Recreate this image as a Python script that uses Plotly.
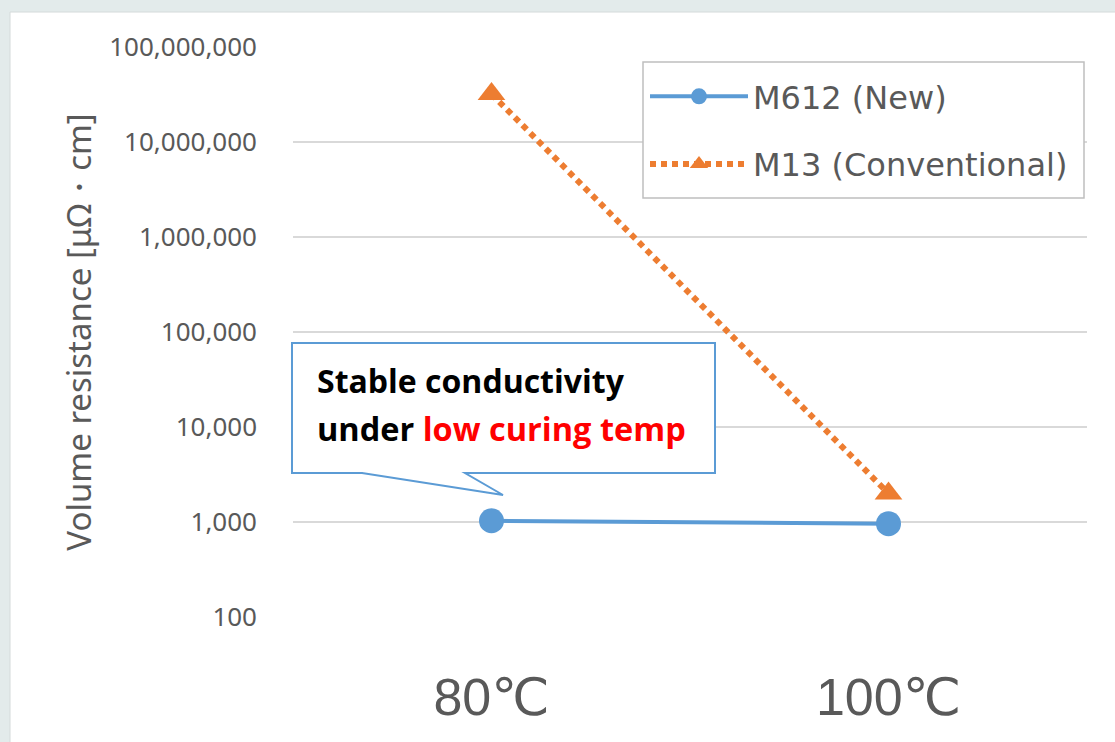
import plotly.graph_objects as go

# ---- data ----
categories = ["80℃", "100℃"]
m612_name = "M612 (New)"
m612_values = [1030, 960]
m13_name = "M13 (Conventional)"
m13_values = [32000000, 2000]
y_tick_vals = [100, 1000, 10000, 100000, 1000000, 10000000, 100000000]
y_tick_text = ["100", "1,000", "10,000", "100,000", "1,000,000", "10,000,000", "100,000,000"]
y_title = "Volume resistance [μΩ・cm]"
callout_line1 = "Stable conductivity"
callout_line2_black = "under "
callout_line2_red = "low curing temp"

W, H = 1115, 742
L, R, T, B = 293, 28, 47, 125
PW, PH = W - L - R, H - T - B


def px(x):
    return (x - L) / PW


def py(y):
    return (H - B - y) / PH


BLUE = "#5b9bd5"
ORANGE = "#ed7d31"
GRAY = "#595959"
OUTER = "#e3ebeb"

fig = go.Figure()
fig.add_trace(go.Scatter(
    x=categories, y=m612_values, name=m612_name, mode="lines+markers",
    line=dict(color=BLUE, width=4),
    marker=dict(symbol="circle", size=25, color=BLUE),
    legendgroup="a",
))
fig.add_trace(go.Scatter(
    x=categories, y=m13_values, name=m13_name, mode="lines+markers",
    line=dict(color=ORANGE, width=6, dash="6px,5px"),
    marker=dict(symbol="triangle-up", size=24, color=ORANGE),
    legendgroup="b",
))

# white panel
shapes = [
    dict(type="rect", xref="paper", yref="paper", layer="below",
         x0=px(10), x1=px(1130), y0=py(760), y1=py(12),
         fillcolor="white", line=dict(color="#d4dada", width=1)),
]
# callout box
pts = [(292, 343), (715, 343), (715, 473), (465, 473), (503, 495), (362, 473), (292, 473)]
path = "M " + " L ".join(f"{px(a):.5f},{py(b):.5f}" for a, b in pts) + " Z"
shapes.append(dict(type="path", xref="paper", yref="paper", path=path,
                   fillcolor="white", line=dict(color=BLUE, width=2), layer="above"))
# legend frame
shapes.append(dict(type="rect", xref="paper", yref="paper", layer="above",
                   x0=px(643), x1=px(1084), y0=py(198), y1=py(62),
                   fillcolor="white", line=dict(color="#bfbfbf", width=1.5)))

annotations = [
    dict(xref="paper", yref="paper", x=px(315), y=py(380), xanchor="left", yanchor="middle",
         text=f"<b>{callout_line1}</b>", showarrow=False,
         font=dict(family="Open Sans, Noto Sans", size=32, color="black")),
    dict(xref="paper", yref="paper", x=px(315), y=py(428), xanchor="left", yanchor="middle",
         text=f"<b>{callout_line2_black}<span style='color:#ff0000'>{callout_line2_red}</span></b>",
         showarrow=False,
         font=dict(family="Open Sans, Noto Sans", size=32.5, color="black")),
]

fig.update_layout(
    width=W, height=H,
    margin=dict(l=L, r=R, t=T, b=B),
    paper_bgcolor=OUTER,
    plot_bgcolor="white",
    shapes=shapes,
    annotations=annotations,
    showlegend=True,
    legend=dict(
        x=px(645), y=py(69), xanchor="left", yanchor="top",
        bgcolor="rgba(0,0,0,0)", borderwidth=0,
        font=dict(family="DejaVu Sans", size=32, color=GRAY),
        tracegroupgap=23, itemwidth=98,
    ),
    xaxis=dict(
        type="category", range=[-0.5, 1.5], showgrid=False, showline=False,
        ticks="", ticklabelstandoff=45,
        tickfont=dict(family="Liberation Sans, DejaVu Sans", size=52, color=GRAY),
    ),
    yaxis=dict(
        type="log", range=[2, 8], tickvals=y_tick_vals, ticktext=y_tick_text,
        showgrid=True, gridcolor="#d9d9d9", gridwidth=1.5, showline=False, zeroline=False,
        ticks="", ticklabelstandoff=35,
        tickfont=dict(family="Noto Sans", size=26, color=GRAY),
        title=dict(text=y_title, standoff=7,
                   font=dict(family="Noto Sans", size=33, color=GRAY)),
    ),
)

fig.write_html(
    "out.html",
    config={"displayModeBar": False},
    post_script=f"document.body.style.margin='0';document.body.style.background='{OUTER}';",
)
